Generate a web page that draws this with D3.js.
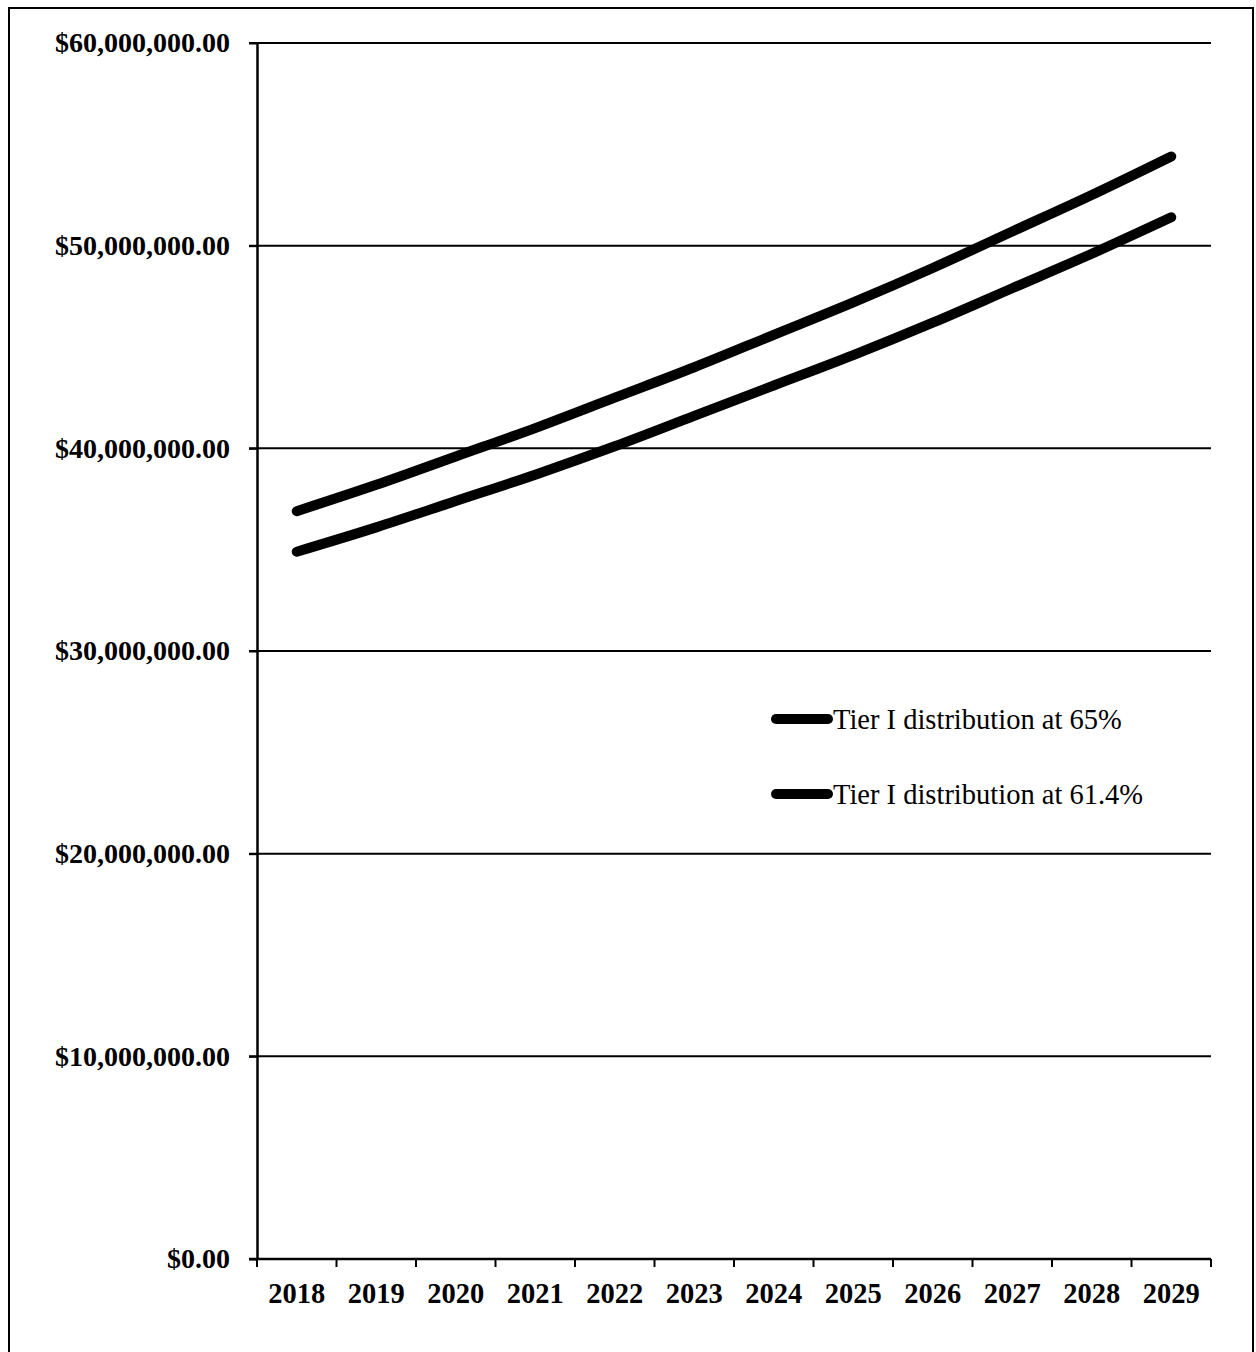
<!DOCTYPE html>
<html>
<head>
<meta charset="utf-8">
<script src="https://cdn.jsdelivr.net/npm/d3@7"></script>
<style>
  body { margin: 0; background: #fff; }
  svg { display: block; }
</style>
</head>
<body>
<svg id="chart" width="1256" height="1352"></svg>
<script>
const years = ["2018","2019","2020","2021","2022","2023","2024","2025","2026","2027","2028","2029"];
const tier65 = [36.9, 38.2, 39.6, 41.0, 42.5, 44.0, 45.6, 47.2, 48.9, 50.7, 52.5, 54.4].map(d => d * 1e6);
const tier614 = [34.9, 36.1, 37.4, 38.7, 40.1, 41.6, 43.1, 44.6, 46.2, 47.9, 49.6, 51.4].map(d => d * 1e6);
const yTicks = [0, 10e6, 20e6, 30e6, 40e6, 50e6, 60e6];
const seriesNames = ["Tier I distribution at 65%", "Tier I distribution at 61.4%"];

const svg = d3.select("#chart");
const margin = {left: 257, right: 45, top: 43, bottom: 93};
const W = 1256, H = 1352;
const x = d3.scaleBand().domain(years).range([margin.left, W - margin.right]);
const y = d3.scaleLinear().domain([0, 60e6]).range([H - margin.bottom, margin.top]);

// page frame (scanned look)
svg.append("path")
  .attr("d", `M9,${H} V8 H${W - 3} V${H}`)
  .attr("fill", "none").attr("stroke", "#000").attr("stroke-width", 2);

// gridlines
svg.append("g")
  .selectAll("line")
  .data(yTicks.filter(d => d > 0))
  .join("line")
  .attr("x1", margin.left - 8).attr("x2", W - margin.right)
  .attr("y1", d => y(d)).attr("y2", d => y(d))
  .attr("stroke", "#000").attr("stroke-width", 2);

const fmt = d => "$" + d3.format(",.2f")(d);

// y axis
const yAxis = svg.append("g")
  .attr("transform", `translate(${margin.left},0)`)
  .call(d3.axisLeft(y).tickValues(yTicks).tickFormat(fmt).tickSize(8).tickPadding(19).tickSizeOuter(0));
yAxis.select(".domain").attr("stroke-width", 2.5);
yAxis.selectAll(".tick line").attr("stroke-width", 2);
yAxis.selectAll("text")
  .attr("font-family", "'Liberation Serif', serif")
  .attr("font-weight", "bold")
  .attr("font-size", 28)
  .attr("fill", "#000");

// x axis: ticks at category boundaries
const xAxis = svg.append("g")
  .attr("transform", `translate(0,${y(0)})`);
xAxis.append("line")
  .attr("x1", margin.left - 8).attr("x2", W - margin.right)
  .attr("stroke", "#000").attr("stroke-width", 2.5);
xAxis.selectAll(".bt")
  .data(years.concat(["end"]))
  .join("line")
  .attr("class", "bt")
  .attr("x1", (d, i) => margin.left + i * x.bandwidth())
  .attr("x2", (d, i) => margin.left + i * x.bandwidth())
  .attr("y1", 0).attr("y2", 8)
  .attr("stroke", "#000").attr("stroke-width", 2);
xAxis.selectAll("text")
  .data(years)
  .join("text")
  .attr("x", d => x(d) + x.bandwidth() / 2)
  .attr("y", 44)
  .attr("text-anchor", "middle")
  .attr("font-family", "'Liberation Serif', serif")
  .attr("font-weight", "bold")
  .attr("font-size", 28.5)
  .text(d => d);

// series lines
const line = d3.line()
  .x((d, i) => x(years[i]) + x.bandwidth() / 2)
  .y(d => y(d))
  .curve(d3.curveMonotoneX);

[tier65, tier614].forEach(s => {
  svg.append("path")
    .datum(s)
    .attr("d", line)
    .attr("fill", "none")
    .attr("stroke", "#000")
    .attr("stroke-width", 10)
    .attr("stroke-linecap", "round");
});

// legend
const legend = svg.append("g").attr("transform", "translate(776,719)");
seriesNames.forEach((name, i) => {
  const g = legend.append("g").attr("transform", `translate(0,${i * 75})`);
  g.append("line")
    .attr("x1", 0).attr("x2", 52)
    .attr("stroke", "#000").attr("stroke-width", 10).attr("stroke-linecap", "round");
  g.append("text")
    .attr("x", 57).attr("y", 10)
    .attr("font-family", "'Liberation Serif', serif")
    .attr("font-size", 28.5)
    .text(name);
});
</script>
</body>
</html>
